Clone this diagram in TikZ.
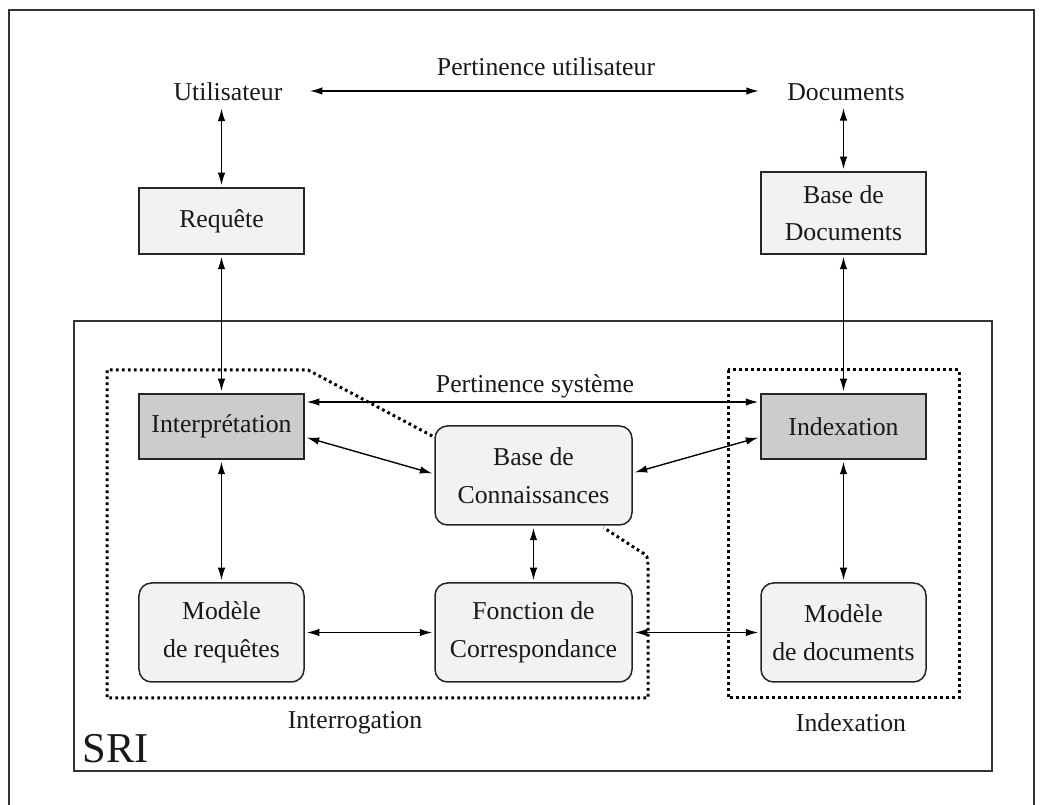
\documentclass[tikz,border=0pt]{standalone}
\usepackage{fontspec}
\setmainfont{Liberation Serif}
\usetikzlibrary{arrows.meta,calc}
\begin{document}
\begin{tikzpicture}[x=0.4pt,y=-0.4pt,
  every node/.style={font=\fontsize{10.3}{15}\selectfont, text=black!90},
  sq/.style={draw=black!85, line width=0.6pt, fill=black!5, inner sep=0pt, align=center},
  dk/.style={sq, fill=black!20},
  rnd/.style={sq, rounded corners=5pt},
  lbl/.style={inner sep=0pt},
  frame/.style={draw=black!80, line width=0.6pt},
  arr/.style={{Latex[length=5pt,width=3pt]}-{Latex[length=5pt,width=3pt]}, line width=0.55pt, shorten >=0.8pt, shorten <=0.8pt},
  dots/.style={line width=1.2pt, dash pattern=on 1.1pt off 1.3pt}]
\useasboundingbox (0,0) rectangle (1042,805);
% frames
\draw[frame] (9,815) -- (9,10) -- (1034,10) -- (1034,815);
\draw[frame] (74,321) rectangle (992,771);
% boxes
\node[sq, minimum width=66pt, minimum height=26.4pt] (req) at (221.5,221) {Requête};
\node[sq, minimum width=66pt, minimum height=32.8pt] (bdd) at (843.5,213) {Base de\\Documents};
\node[dk, minimum width=66pt, minimum height=26pt] (interp) at (221.5,426.5) {Interprétation};
\node[dk, minimum width=66pt, minimum height=26pt] (index) at (843.5,426.5) {Indexation};
\node[rnd, minimum width=78.8pt, minimum height=39.6pt] (bdc) at (533.5,475.5) {Base de\\Connaissances};
\node[rnd, minimum width=66pt, minimum height=39.6pt] (modreq) at (221.5,632.5) {Modèle\\de requêtes};
\node[rnd, minimum width=78.8pt, minimum height=39.6pt] (fonc) at (533.5,632.5) {Fonction de\\Correspondance};
\node[rnd, minimum width=66pt, minimum height=39.6pt] (moddoc) at (843.5,632.5) {Modèle\\de documents};
% labels
\node[lbl] (ut) at (228,92) {Utilisateur};
\node[lbl] (docs) at (846,92) {Documents};
\node[lbl] (pu) at (546,67) {Pertinence utilisateur};
\node[lbl] (ps) at (535,386) {Pertinence système};
\node[lbl] (interro) at (355,723) {Interrogation};
\node[lbl] (indexlbl) at (851,723) {Indexation};
\node[lbl, anchor=base west, font=\fontsize{17}{20}\selectfont] (sri) at (82,763) {SRI};
% dotted regions
\draw[dots] ($(bdc.west)+(-2,-39.5)$) -- (308,370) -- (107,370) -- (107,698) -- (648,698) -- (648,566) .. controls (648,556) .. (638,550) -- ($(bdc.south east)+(-29,2)$);
\draw[dots] (728,370) rectangle (959,698);
% arrows
\draw[arr] ($(ut.east)+(25,-1)$) -- ($(docs.west)+(-26,-1)$);
\draw[arr] ($(ut.south -| req.north)+(0,5)$) -- (req.north);
\draw[arr] ($(docs.south -| bdd.north)+(0,5)$) -- (bdd.north);
\draw[arr] (req.south) -- (interp.north);
\draw[arr] (bdd.south) -- (index.north);
\draw[arr] (interp.south) -- (modreq.north);
\draw[arr] (index.south) -- (moddoc.north);
\draw[arr] (bdc.south) -- (fonc.north);
\draw[arr] ($(interp.east)+(0,-24.5)$) -- ($(index.west)+(0,-24.5)$);
\draw[arr] ($(interp.east)+(0,10.5)$) -- ($(bdc.west)+(0,-1.5)$);
\draw[arr] ($(index.west)+(0,10.5)$) -- ($(bdc.east)+(0,-2.5)$);
\draw[arr] (modreq.east) -- (fonc.west);
\draw[arr] (fonc.east) -- (moddoc.west);
\end{tikzpicture}
\end{document}
